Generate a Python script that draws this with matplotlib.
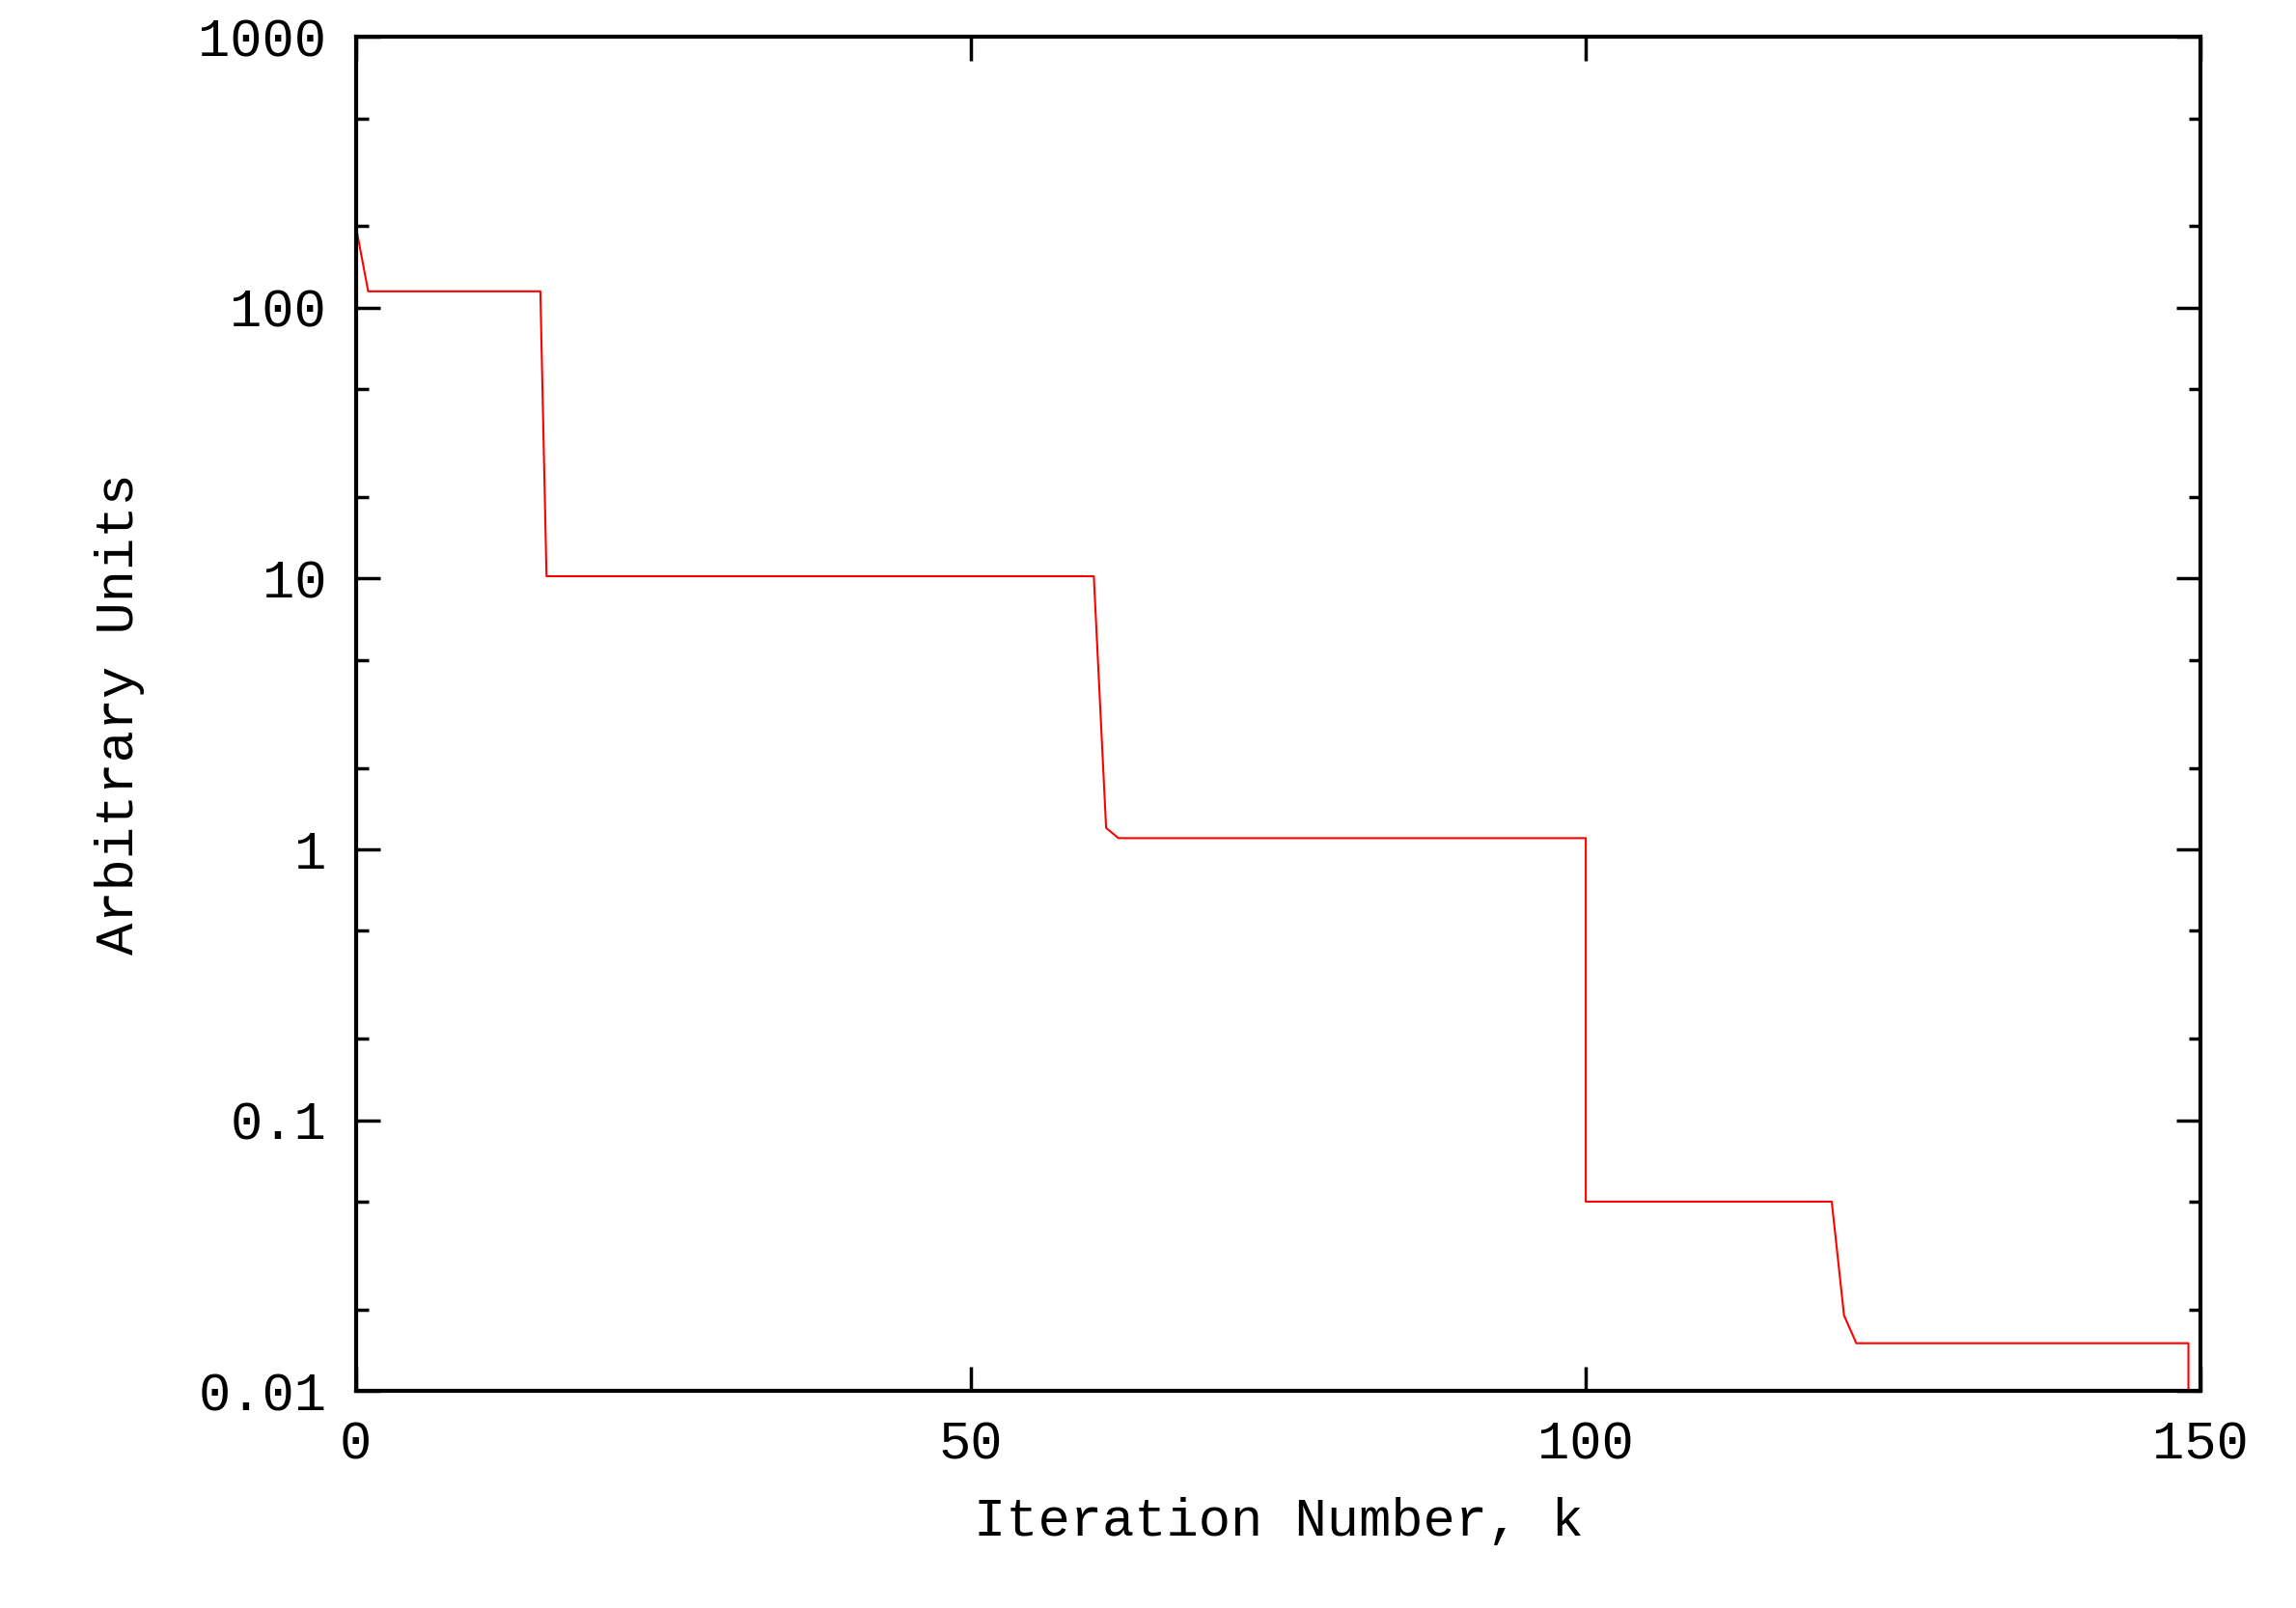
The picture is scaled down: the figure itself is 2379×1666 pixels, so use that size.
import matplotlib
matplotlib.use("Agg")
import matplotlib.pyplot as plt
from matplotlib.ticker import FixedLocator, LogLocator, NullFormatter

# values
iteration = [0, 1, 15, 15.5, 60, 61, 62, 100, 100, 120, 121, 122, 149, 149]
value = [200, 115, 115, 10.2, 10.2, 1.2, 1.1, 1.1, 0.05, 0.05, 0.019, 0.015, 0.015, 0.01]
ytick_vals = [0.01, 0.1, 1, 10, 100, 1000]
ytick_labels = ["0.01", "0.1", "1", "10", "100", "1000"]
xtick_vals = [0, 50, 100, 150]

plt.rcParams['font.family'] = ['Liberation Mono', 'DejaVu Sans Mono']
fig = plt.figure(figsize=(23.79, 16.66), dpi=100)
ax = fig.add_axes([0.155, 0.135, 0.8035, 0.842])
ax.plot(iteration, value, color='red', lw=1.5)
ax.set_yscale('log')
ax.set_xlim(0, 150)
ax.set_ylim(0.01, 1000)
ax.yaxis.set_major_locator(FixedLocator(ytick_vals))
ax.set_yticklabels(ytick_labels)
ax.yaxis.set_minor_locator(LogLocator(base=10, subs=[2, 5]))
ax.yaxis.set_minor_formatter(NullFormatter())
ax.set_xticks(xtick_vals)
ax.tick_params(which='both', direction='in', top=True, right=True, labelsize=40, width=2.5)
ax.tick_params(which='major', length=18, pad=22)
ax.tick_params(which='minor', length=9)
for s in ax.spines.values():
    s.set_linewidth(3)
ax.set_xlabel('Iteration Number, k', fontsize=40, labelpad=20)
ax.set_ylabel('Arbitrary Units', fontsize=40, labelpad=40)
fig.savefig('out.png', dpi=100)
